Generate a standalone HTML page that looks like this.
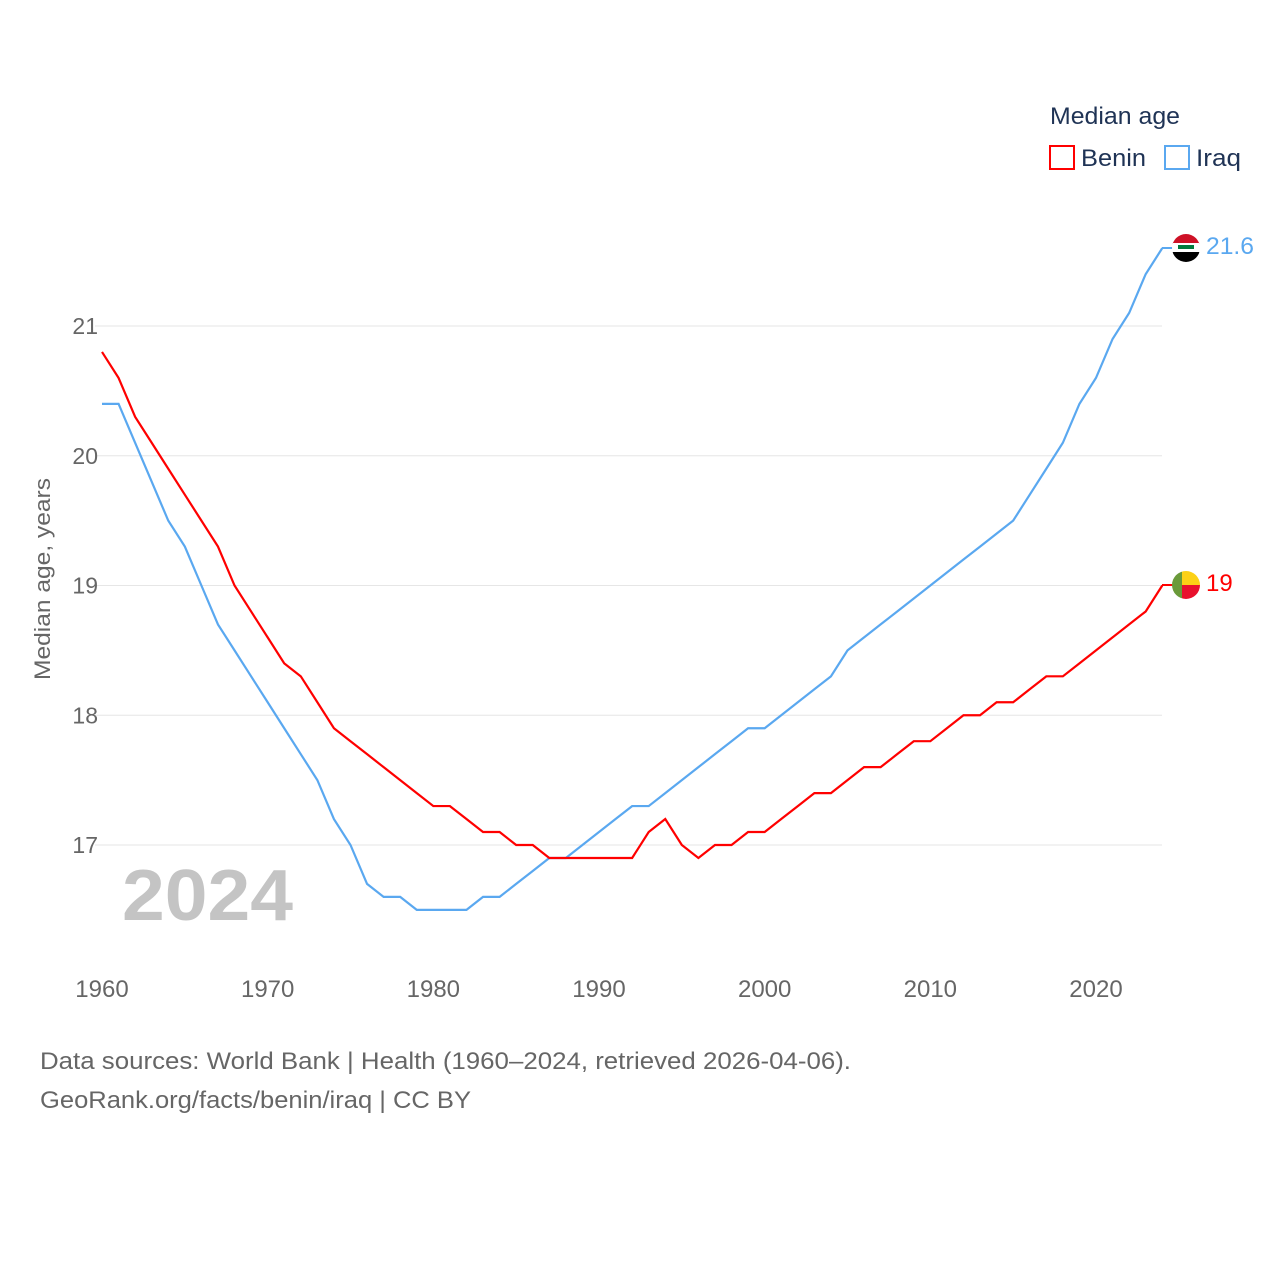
<!DOCTYPE html>
<html><head><meta charset="utf-8"><style>
body{margin:0;background:#fff;font-family:"Liberation Sans",sans-serif;}
</style></head><body>
<svg id="chart" width="1280" height="1280" viewBox="0 0 1280 1280" xmlns="http://www.w3.org/2000/svg" font-family="Liberation Sans, sans-serif">
<rect width="1280" height="1280" fill="#fff"/>
<g id="grid"></g>
<g id="ylabels"></g>
<g id="xlabels"></g>
<text x="122" y="920" font-size="72" font-weight="bold" fill="#c4c4c4" textLength="171" lengthAdjust="spacingAndGlyphs">2024</text>
<text transform="translate(50,579) rotate(-90)" text-anchor="middle" font-size="22" fill="#666" textLength="202" lengthAdjust="spacingAndGlyphs">Median age, years</text>
<g id="lines"></g>
<text x="1050" y="124" font-size="24" fill="#1f3355" textLength="130" lengthAdjust="spacingAndGlyphs">Median age</text>
<rect x="1050" y="146" width="24" height="23" fill="none" stroke="#f00" stroke-width="2"/>
<text x="1081" y="166" font-size="24" fill="#1f3355" textLength="65" lengthAdjust="spacingAndGlyphs">Benin</text>
<rect x="1165" y="146" width="24" height="23" fill="none" stroke="#5aa8f0" stroke-width="2"/>
<text x="1196" y="166" font-size="24" fill="#1f3355" textLength="45" lengthAdjust="spacingAndGlyphs">Iraq</text>
<line x1="1162" y1="248" x2="1175" y2="248" stroke="#5aa8f0" stroke-width="2"/>
<line x1="1162" y1="585" x2="1175" y2="585" stroke="#f00" stroke-width="2"/>
<g>
<clipPath id="ci"><circle cx="1186" cy="248" r="14"/></clipPath>
<g clip-path="url(#ci)"><rect x="1170" y="234" width="32" height="10" fill="#ce1126"/><rect x="1170" y="243" width="32" height="10" fill="#fff"/><rect x="1170" y="252" width="32" height="12" fill="#000"/><rect x="1178" y="245" width="16" height="4" fill="#007a3d"/></g></g>
<g>
<clipPath id="cb"><circle cx="1186" cy="585" r="14"/></clipPath>
<g clip-path="url(#cb)"><rect x="1170" y="570" width="12" height="30" fill="#6a9a3a"/><rect x="1182" y="570" width="20" height="15" fill="#fcd116"/><rect x="1182" y="585" width="20" height="15" fill="#e8112d"/></g></g>
<text x="1206" y="254" font-size="24" fill="#5aa8f0" textLength="48" lengthAdjust="spacingAndGlyphs">21.6</text>
<text x="1206" y="591" font-size="24" fill="#f00">19</text>
<text x="40" y="1069" font-size="24" fill="#666" textLength="811" lengthAdjust="spacingAndGlyphs">Data sources: World Bank | Health (1960–2024, retrieved 2026-04-06).</text>
<text x="40" y="1108" font-size="24" fill="#666" textLength="431" lengthAdjust="spacingAndGlyphs">GeoRank.org/facts/benin/iraq | CC BY</text>
</svg>
<script>
const years=[];for(let y=1960;y<=2024;y++)years.push(y);
const benin=[20.8,20.6,20.3,20.1,19.9,19.7,19.5,19.3,19.0,18.8,18.6,18.4,18.3,18.1,17.9,17.8,17.7,17.6,17.5,17.4,17.3,17.3,17.2,17.1,17.1,17.0,17.0,16.9,16.9,16.9,16.9,16.9,16.9,17.1,17.2,17.0,16.9,17.0,17.0,17.1,17.1,17.2,17.3,17.4,17.4,17.5,17.6,17.6,17.7,17.8,17.8,17.9,18.0,18.0,18.1,18.1,18.2,18.3,18.3,18.4,18.5,18.6,18.7,18.8,19.0];
const iraq=[20.4,20.4,20.1,19.8,19.5,19.3,19.0,18.7,18.5,18.3,18.1,17.9,17.7,17.5,17.2,17.0,16.7,16.6,16.6,16.5,16.5,16.5,16.5,16.6,16.6,16.7,16.8,16.9,16.9,17.0,17.1,17.2,17.3,17.3,17.4,17.5,17.6,17.7,17.8,17.9,17.9,18.0,18.1,18.2,18.3,18.5,18.6,18.7,18.8,18.9,19.0,19.1,19.2,19.3,19.4,19.5,19.7,19.9,20.1,20.4,20.6,20.9,21.1,21.4,21.6];
const yTicks=[17,18,19,20,21];
const xTicks=[1960,1970,1980,1990,2000,2010,2020];
const NS="http://www.w3.org/2000/svg";
const xs=y=>102+(y-1960)*(1096-102)/60;
const ys=v=>845-(v-17)*129.75;
const grid=document.getElementById('grid'),yl=document.getElementById('ylabels'),xl=document.getElementById('xlabels'),lines=document.getElementById('lines');
yTicks.forEach(t=>{
 const l=document.createElementNS(NS,'line');
 
 
 l.setAttribute('x1',95);l.setAttribute('x2',1162);l.setAttribute('y1',ys(t));l.setAttribute('y2',ys(t));
 l.setAttribute('stroke','#e6e6e6');grid.appendChild(l);
 const tx=document.createElementNS(NS,'text');
 
 
 tx.setAttribute('x',98);tx.setAttribute('y',ys(t)+8);tx.setAttribute('text-anchor','end');
 tx.setAttribute('font-size','23');tx.setAttribute('fill','#666');tx.textContent=t;yl.appendChild(tx);
});
xTicks.forEach(t=>{
 const tx=document.createElementNS(NS,'text');
 
 
 tx.setAttribute('x',xs(t));tx.setAttribute('y',997);tx.setAttribute('text-anchor','middle');
 tx.setAttribute('font-size','24');tx.setAttribute('fill','#666');tx.textContent=t;xl.appendChild(tx);
});
function draw(vals,color,name){
 const p=document.createElementNS(NS,'polyline');
 
 
 p.setAttribute('points',vals.map((v,i)=>xs(years[i])+','+ys(v)).join(' '));
 p.setAttribute('fill','none');p.setAttribute('stroke',color);p.setAttribute('stroke-width','2.2');
 lines.appendChild(p);
}
draw(iraq,'#5aa8f0','iraq-line');
draw(benin,'#f00','benin-line');
</script>
</body></html>
